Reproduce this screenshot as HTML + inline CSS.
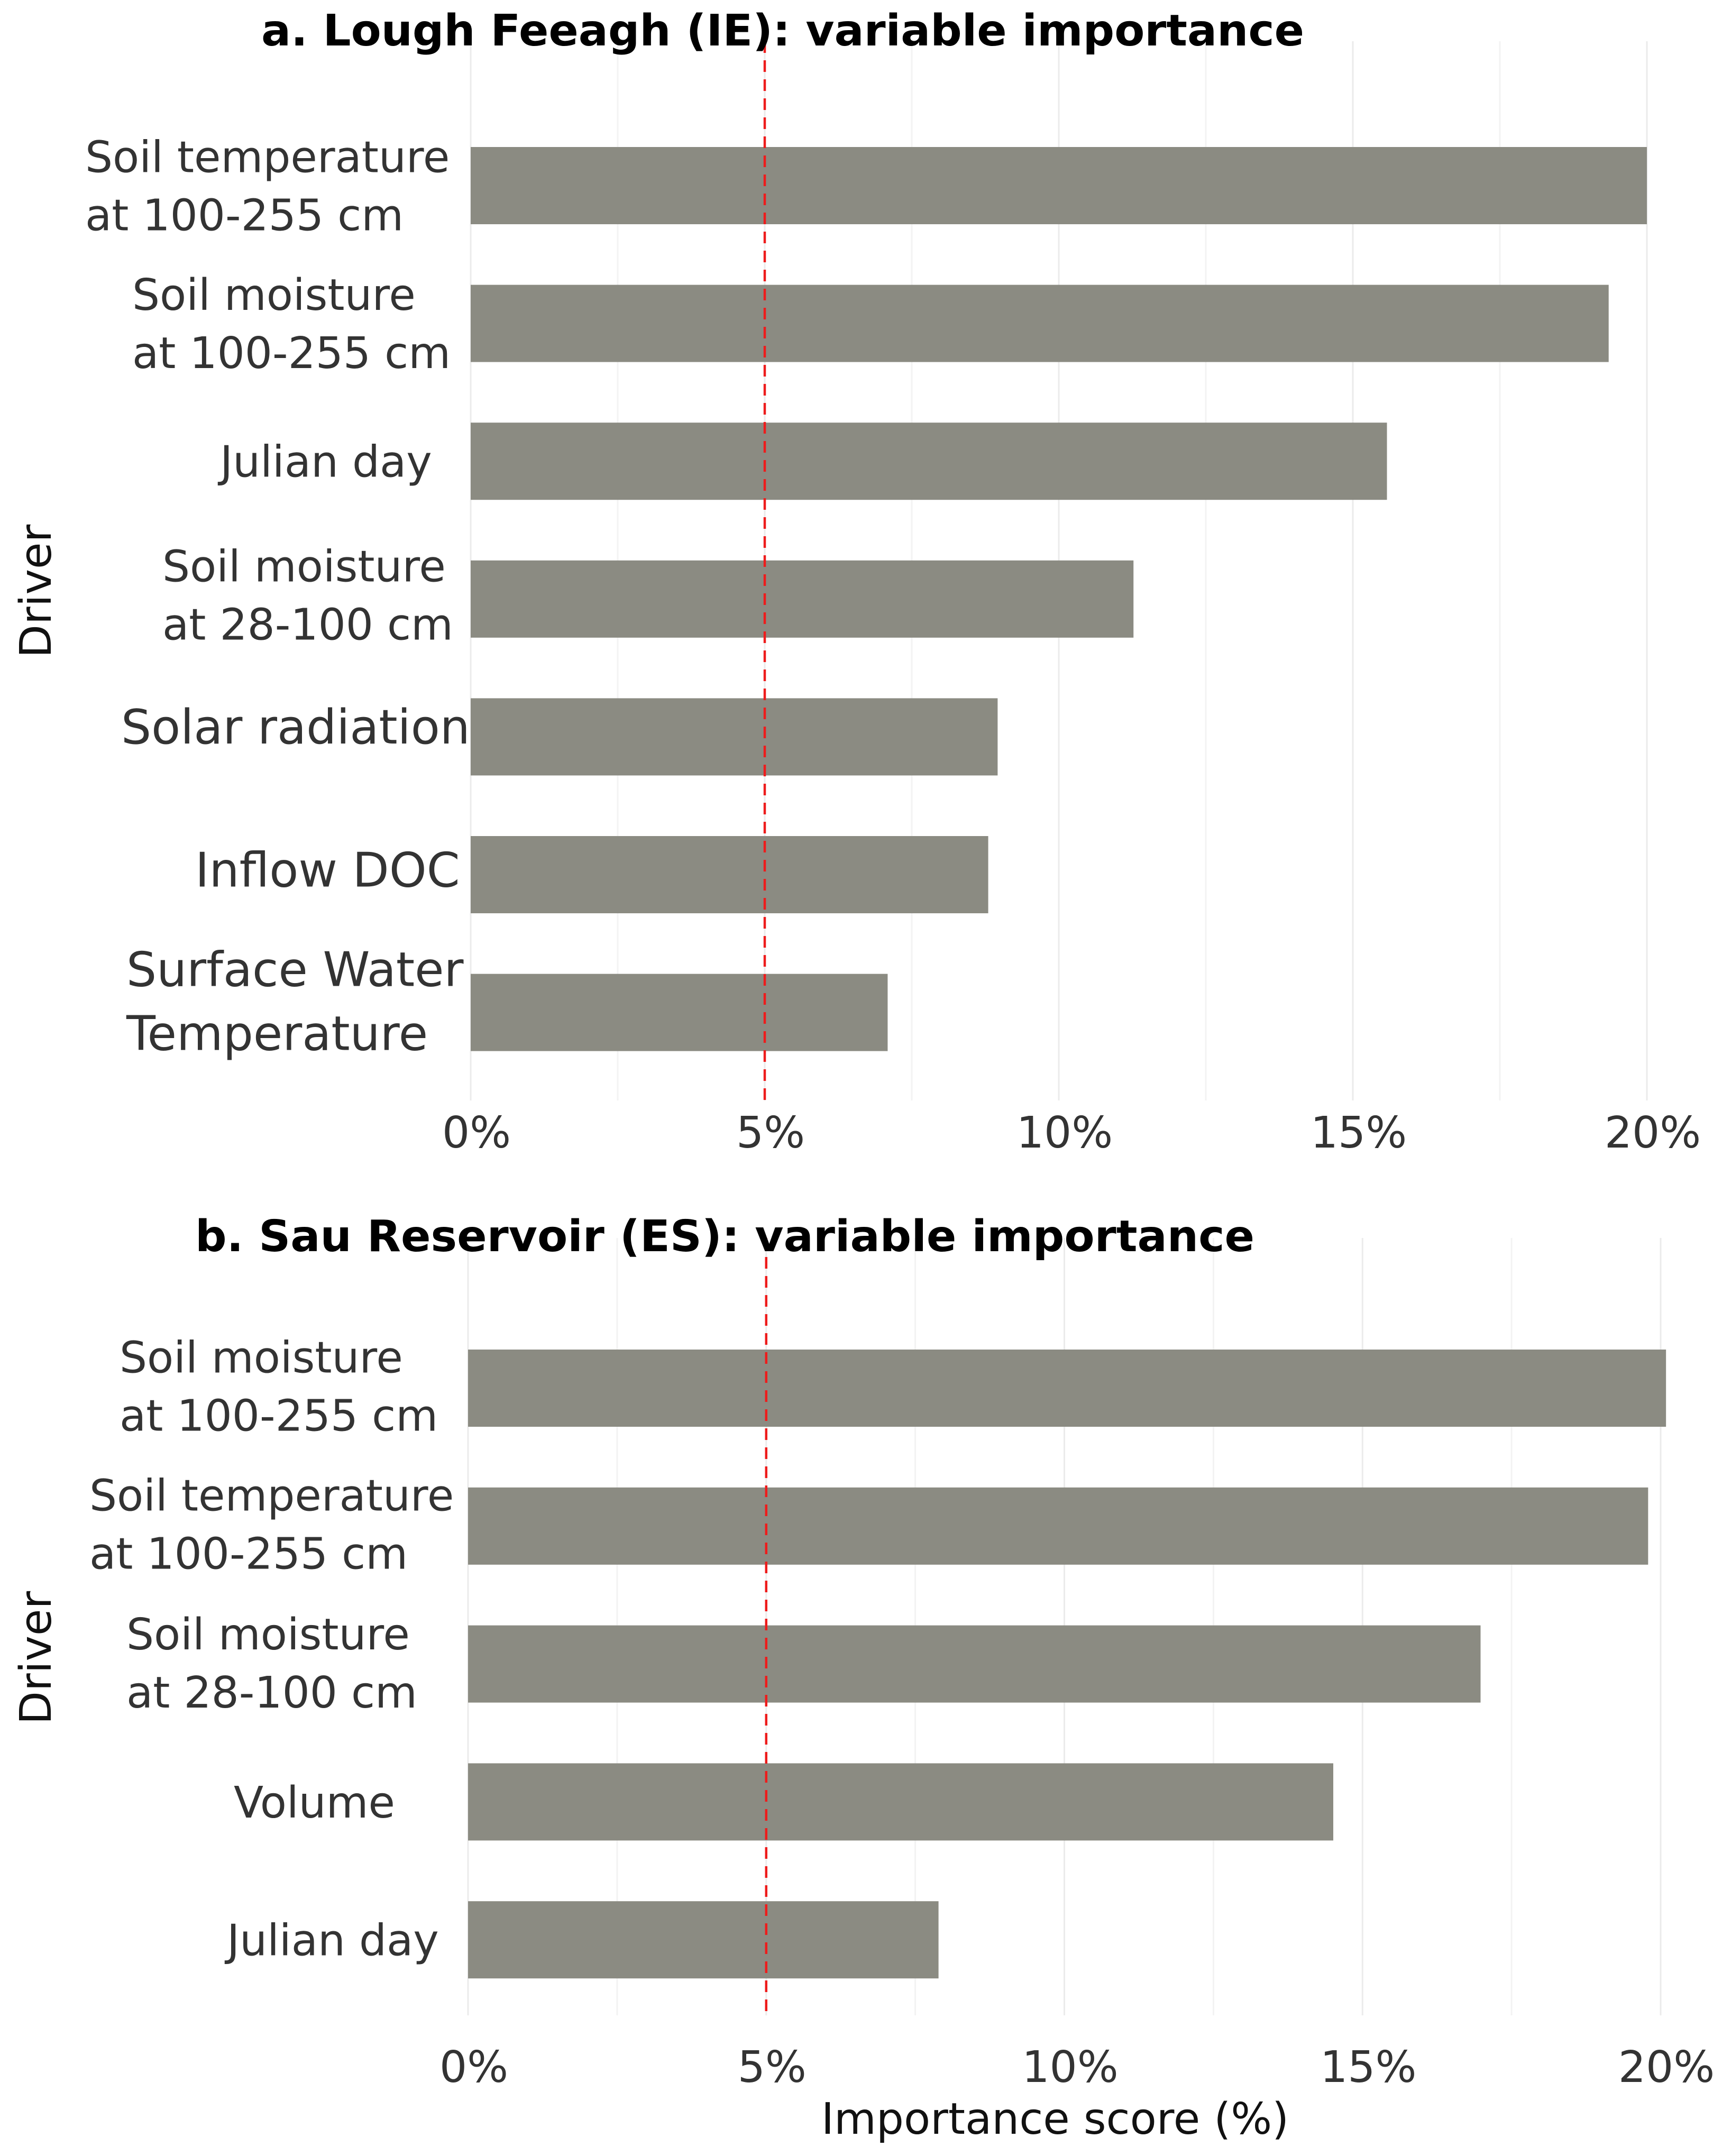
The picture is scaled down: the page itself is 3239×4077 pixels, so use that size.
<!DOCTYPE html>
<html><head><meta charset="utf-8"><style>
html,body{margin:0;padding:0;background:#fff}
svg{display:block}
text{font-family:"DejaVu Sans","Liberation Sans",sans-serif;fill:#333}
</style></head><body>
<svg id="chart" width="3239" height="4077" viewBox="0 0 3239 4077" xmlns="http://www.w3.org/2000/svg">
<g id="pa"></g>
<g id="pb"></g>
</svg>
<script>
const ticks = [0, 5, 10, 15, 20];
const tickLabels = ["0%", "5%", "10%", "15%", "20%"];
const threshold = 5;
const aLabels = [["Soil temperature","at 100-255 cm"],["Soil moisture","at 100-255 cm"],["Julian day"],["Soil moisture","at 28-100 cm"],["Solar radiation"],["Inflow DOC"],["Surface Water","Temperature"]];
const aValues = [20.0, 19.35, 15.58, 11.27, 8.96, 8.8, 7.09];
const bLabels = [["Soil moisture","at 100-255 cm"],["Soil temperature","at 100-255 cm"],["Soil moisture","at 28-100 cm"],["Volume"],["Julian day"]];
const bValues = [20.09, 19.79, 16.98, 14.51, 7.89];

const NS = "http://www.w3.org/2000/svg";
function mk(parent, tag, attrs, txt){
  const e = document.createElementNS(NS, tag);
  for (const k in attrs) e.setAttribute(k, attrs[k]);
  if (txt !== undefined) e.textContent = txt;
  parent.appendChild(e);
  return e;
}
function panel(g, cfg, labels, values){
  const x = v => cfg.x0 + (cfg.x20 - cfg.x0) * v / 20;
  const y = i => cfg.yc0 + cfg.step * i;
  for (let v = 0; v <= 20; v += 2.5){
    const l = mk(g, "line", {x1:x(v), x2:x(v), y1:cfg.gTop, y2:cfg.gBot, stroke: (v % 5 === 0) ? "#ebebeb" : "#f3f3f3", "stroke-width": 3});
    
    
  }
  values.forEach((v, i) => {
    const r = mk(g, "rect", {x:x(0), y:y(i) - 73, width:x(v) - x(0), height:146, fill:"#8b8b82"});
    
    
    const lines = labels[i];
    const fs = cfg.labelFs[i];
    const lh = fs * 1.34;
    const t = mk(g, "text", {x:cfg.labelX[i], y:0, "font-size":fs});
    
    
    lines.forEach((s, j) => {
      const yy = y(i) + fs * 0.36 + cfg.labelDy[i] + (j - (lines.length - 1) / 2) * lh;
      mk(t, "tspan", {x:cfg.labelX[i], y:yy}, s);
    });
  });
  const rl = mk(g, "line", {x1:x(threshold), x2:x(threshold), y1:cfg.gTop, y2:cfg.gBot, stroke:"#ee1c1c", "stroke-width":4.5, "stroke-dasharray":"22 14"});
  
  
  ticks.forEach((v, i) => {
    const t = mk(g, "text", {x:x(v) + 11, y:cfg.tickY, "font-size":82, "text-anchor":"middle", fill:"#111"}, tickLabels[i]);
    
    
  });
  const tt = mk(g, "text", {x:cfg.titleX, y:cfg.titleY, "font-size":82, "font-weight":"bold", style:"fill:#000", textLength:cfg.titleW, lengthAdjust:"spacingAndGlyphs"}, cfg.title);
  
  
  const dy = mk(g, "text", {x:0, y:0, "font-size":82, "text-anchor":"middle", transform:`translate(${cfg.driverX},${cfg.driverY}) rotate(-90)`, style:"fill:#111"}, "Driver");
  
  
}
panel(document.getElementById("pa"), {
  x0:890, x20:3114, yc0:351, step:260.6, gTop:78, gBot:2081, tickY:2170,
  labelX:[161,250,416,307,229,369,239],
  labelFs:[82,82,82,82,90,90,90],
  labelDy:[0,0,0,-8,-20,-10,-22],
  title:"a. Lough Feeagh (IE): variable importance", titleX:494, titleY:86, titleW:1972,
  driverX:96, driverY:1118
}, aLabels, aValues);
panel(document.getElementById("pb"), {
  x0:885, x20:3140, yc0:2625, step:260.8, gTop:2341, gBot:3811, tickY:3937,
  labelX:[226,169,239,442,429],
  labelFs:[82,82,82,82,82],
  labelDy:[-4,-4,-2,0,0],
  title:"b. Sau Reservoir (ES): variable importance", titleX:369, titleY:2366, titleW:2003,
  driverX:96, driverY:3135
}, bLabels, bValues);
const xt = mk(document.getElementById("chart"), "text", {x:1995, y:4035, "font-size":82, "text-anchor":"middle", style:"fill:#111"}, "Importance score (%)");


</script>
</body></html>
